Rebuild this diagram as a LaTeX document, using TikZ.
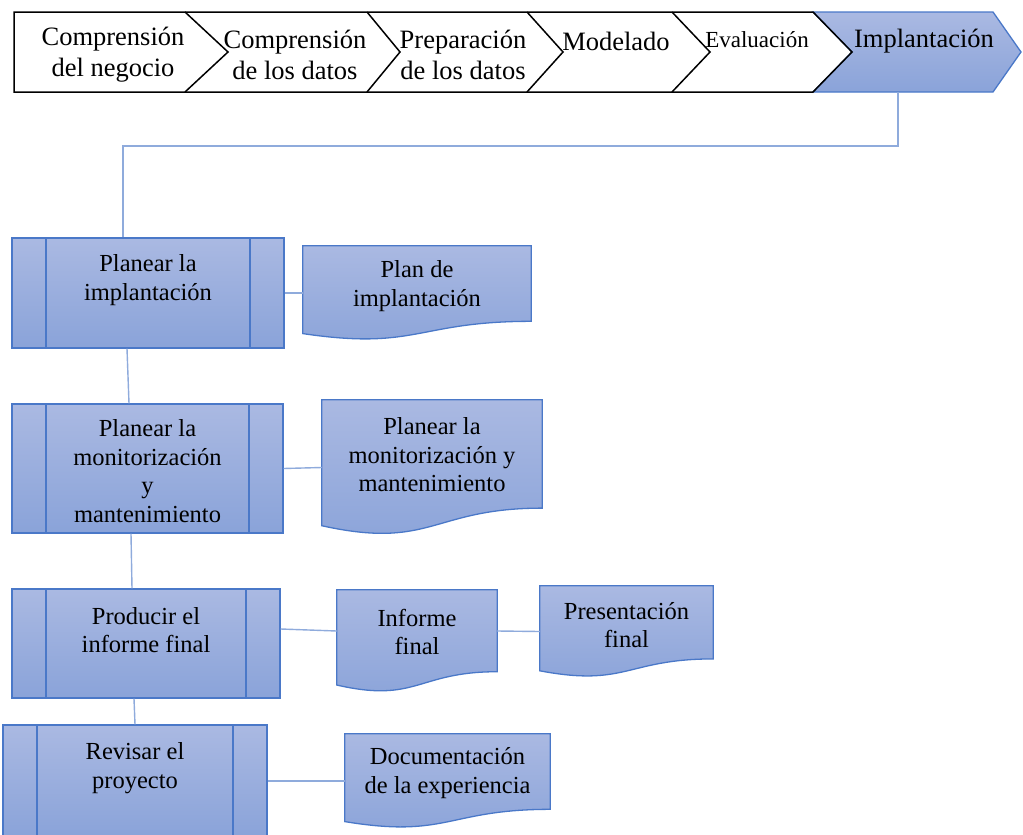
\documentclass[tikz,border=0pt]{standalone}
\usepackage{fontspec}
\setmainfont{Liberation Serif}
\usetikzlibrary{calc,backgrounds}

\definecolor{azulborde}{HTML}{4A78C8}
\definecolor{azulclaro}{HTML}{AAB9E2}
\definecolor{azuloscuro}{HTML}{8AA3D9}
\definecolor{azullinea}{HTML}{8FABDC}

\tikzset{
  fase/.style={font=\fontsize{26.5}{31}\selectfont, align=center, inner sep=0pt},
  texto/.style={font=\fontsize{24.5}{28.5}\selectfont, align=center, inner sep=0pt},
  relleno/.style={draw=azulborde, line width=1.3pt, top color=azulclaro, bottom color=azuloscuro},
  proceso/.style={relleno, inner sep=0pt,
    path picture={\draw[azulborde, line width=1.3pt]
      ([xshift=34pt]path picture bounding box.north west) -- ([xshift=34pt]path picture bounding box.south west)
      ([xshift=-34pt]path picture bounding box.north east) -- ([xshift=-34pt]path picture bounding box.south east);}},
  documento/.style={inner sep=0pt},
  enlace/.style={draw=azullinea, line width=1.4pt},
}

% hoja con borde inferior ondulado
\newcommand\hoja[1]{%
  \path[relleno] (#1.north west) -- (#1.north east)
    -- ($(#1.north east)!0.80!(#1.south east)$)
    .. controls ($(#1.north)!0.80!(#1.south)$) and ($(#1.north)!1.11!(#1.south)$)
    .. ($(#1.north west)!0.93!(#1.south west)$) -- cycle;}

\begin{document}
\begin{tikzpicture}[x=1pt,y=-1pt]
  \useasboundingbox (0,0) rectangle (1023,835);

  % fases
  \path[relleno] (813,12) -- (993,12) -- (1021,52) -- (993,92) -- (813,92) -- (852,52) -- cycle;
  \draw[line width=1.5pt] (14,12) -- (813,12) -- (852,52) -- (813,92) -- (14,92) -- cycle;
  \foreach \a/\b in {185/228,367/400,527/563,672/710}
    \draw[line width=1.5pt] (\a,12) -- (\b,52) -- (\a,92);

  \node[fase] (negocio)      at (113,55) {Comprensión\\del negocio};
  \node[fase] (datos)        at (295,55) {Comprensión\\de los datos};
  \node[fase] (preparacion)  at (463,55) {Preparación\\de los datos};
  \node[fase] (modelado)     at (616,41) {Modelado};
  \node[fase, font=\fontsize{23}{28}\selectfont] (evaluacion) at (757,40) {Evaluación};
  \node[fase] (implantacion) at (924,41) {Implantación};
  \coordinate (salida) at (898,92);

  % tareas
  \node[proceso, minimum width=272pt, minimum height=110pt,
        label={[texto,yshift=13pt]center:{Planear la\\implantación}}] (planimpl) at (148,293) {};
  \node[proceso, minimum width=271pt, minimum height=129pt,
        label={[texto,yshift=-2.5pt]center:{Planear la\\monitorización\\y\\mantenimiento}}] (planmon) at (147.5,468.5) {};
  \node[proceso, minimum width=268pt, minimum height=109pt,
        label={[texto,yshift=13.5pt]center:{Producir el\\informe final}}] (informe) at (146,643.5) {};
  \node[proceso, minimum width=264pt, minimum height=112pt,
        label={[texto,yshift=13pt]center:{Revisar el\\proyecto}}] (revisar) at (135,781) {};

  % salidas
  \node[documento, minimum width=228pt, minimum height=94pt,
        label={[texto,yshift=7pt]center:{Plan de\\implantación}}] (plandoc) at (417,293) {};
  \node[documento, minimum width=220pt, minimum height=135pt,
        label={[texto,yshift=12.5pt]center:{Planear la\\monitorización y\\mantenimiento}}] (mondoc) at (432,467.5) {};
  \node[documento, minimum width=160pt, minimum height=102pt,
        label={[texto,yshift=9pt]center:{Informe\\final}}] (infdoc) at (417,641) {};
  \node[documento, minimum width=173pt, minimum height=91pt,
        label={[texto,yshift=6.5pt]center:{Presentación\\final}}] (presdoc) at (626.5,631.5) {};
  \node[documento, minimum width=205pt, minimum height=94pt,
        label={[texto,yshift=8pt]center:{Documentación\\de la experiencia}}] (expdoc) at (447.5,781) {};

  \begin{scope}[on background layer]
    \foreach \d in {plandoc,mondoc,infdoc,presdoc,expdoc}
      \hoja{\d};
  \end{scope}

  % conexiones
  \draw[enlace] (salida) -- ++(0,54) -| ([xshift=-25pt]planimpl.north);
  \draw[enlace] ([xshift=-21pt]planimpl.south) -- ([xshift=-18.5pt]planmon.north);
  \draw[enlace] ([xshift=-16.5pt]planmon.south) -- ([xshift=-14pt]informe.north);
  \draw[enlace] ([xshift=-12pt]informe.south) -- (revisar.north);
  \draw[enlace] (planimpl.east) -- (plandoc.west);
  \draw[enlace] (planmon.east) -- (mondoc.west);
  \draw[enlace] ([yshift=14.5pt]informe.east) -- ([yshift=10pt]infdoc.west);
  \draw[enlace] ([yshift=10pt]infdoc.east) -- (presdoc.west);
  \draw[enlace] (revisar.east) -- (expdoc.west);
\end{tikzpicture}
\end{document}
